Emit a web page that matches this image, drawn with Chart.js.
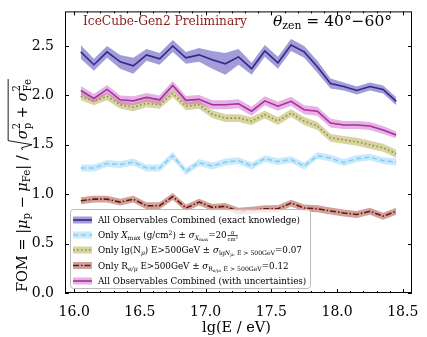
<!DOCTYPE html>
<html>
<head>
<meta charset="utf-8">
<script src="https://cdn.jsdelivr.net/npm/chart.js@4.4.1/dist/chart.umd.min.js"></script>
<style>html,body{margin:0;padding:0;background:#fff}</style>
</head>
<body>
<canvas id="fom" width="427" height="337"></canvas>
<script>
// lg(E/eV) bin centres
var energy = [16.05,16.15,16.25,16.35,16.45,16.55,16.65,16.75,16.85,16.95,17.05,17.15,17.25,17.35,17.45,17.55,17.65,17.75,17.85,17.95,18.05,18.15,18.25,18.35,18.45];

var fomExact = [2.44,2.31,2.44,2.34,2.30,2.41,2.37,2.50,2.38,2.41,2.36,2.32,2.39,2.27,2.45,2.33,2.51,2.44,2.29,2.12,2.09,2.05,2.09,2.06,1.94];
var errExact = [0.07,0.06,0.06,0.07,0.08,0.06,0.06,0.06,0.06,0.07,0.09,0.11,0.08,0.06,0.06,0.06,0.06,0.06,0.06,0.05,0.04,0.04,0.04,0.04,0.04];

var fomXmax = [1.265,1.265,1.31,1.30,1.325,1.265,1.265,1.39,1.23,1.32,1.285,1.325,1.34,1.285,1.36,1.33,1.35,1.285,1.39,1.365,1.32,1.36,1.375,1.34,1.325];
var errXmax = [0.035,0.035,0.035,0.035,0.035,0.035,0.035,0.04,0.035,0.035,0.035,0.035,0.035,0.035,0.035,0.035,0.035,0.035,0.035,0.035,0.035,0.035,0.035,0.035,0.035];

var fomNmu = [1.99,1.94,1.99,1.905,1.88,1.92,1.905,2.02,1.89,1.905,1.81,1.77,1.77,1.74,1.805,1.74,1.82,1.74,1.69,1.57,1.55,1.53,1.50,1.47,1.41];
var errNmu = [0.04,0.04,0.04,0.04,0.04,0.04,0.04,0.04,0.04,0.04,0.04,0.04,0.04,0.04,0.04,0.04,0.04,0.04,0.04,0.04,0.04,0.04,0.04,0.04,0.04];

var fomRemu = [0.933,0.95,0.95,0.92,0.95,0.883,0.883,0.976,0.86,0.92,0.867,0.877,0.827,0.837,0.853,0.853,0.91,0.86,0.853,0.83,0.81,0.795,0.827,0.777,0.827];
var errRemu = [0.035,0.035,0.035,0.035,0.035,0.035,0.035,0.035,0.035,0.035,0.035,0.035,0.035,0.035,0.035,0.035,0.035,0.035,0.035,0.035,0.035,0.035,0.035,0.035,0.035];

var fomUnc = [2.05,1.97,2.06,1.955,1.945,1.98,1.955,2.10,1.95,1.96,1.905,1.905,1.915,1.84,1.945,1.89,1.94,1.855,1.84,1.72,1.70,1.70,1.69,1.65,1.60];
var errUnc = [0.045,0.045,0.045,0.045,0.045,0.045,0.045,0.045,0.045,0.045,0.045,0.045,0.045,0.045,0.045,0.045,0.045,0.045,0.045,0.045,0.04,0.04,0.04,0.04,0.035];

var xTickStep = 0.5;
var yTickStep = 0.5;

var series = [
  {val: fomExact, err: errExact, line: '#2e2a87', band: 'rgba(90,75,185,0.55)', dash: []},
  {val: fomXmax, err: errXmax, line: '#86cdf0', band: 'rgba(135,206,250,0.45)', dash: [5,3]},
  {val: fomNmu, err: errNmu, line: '#8f8f38', band: 'rgba(175,170,70,0.5)', dash: [1.5,2.5]},
  {val: fomRemu, err: errRemu, line: '#6e1408', band: 'rgba(160,70,55,0.5)', dash: [6,2,1.5,2]},
  {val: fomUnc, err: errUnc, line: '#a6309e', band: 'rgba(205,100,200,0.5)', dash: []}
];

var legendRows = [
  [{t:'All Observables Combined (exact knowledge)'}],
  [{t:'Only '},{t:'X',it:1},{sub:[{t:'max'}]},{t:' (g/cm'},{sup:[{t:'2'}]},{t:') ± '},{t:'σ',it:1},{sub:[{t:'X',it:1},{sub:[{t:'max'}]}]},{t:'=20'},{frac:[[{t:'g'}],[{t:'cm'},{sup:[{t:'2'}]}]]}],
  [{t:'Only lg(N'},{sub:[{t:'μ',it:1}]},{t:') E>500GeV ± '},{t:'σ',it:1},{sub:[{t:'lg'},{t:'N',it:1},{sub:[{t:'μ',it:1}]},{t:', E > 500GeV'}]},{t:'=0.07'}],
  [{t:'Only R'},{sub:[{t:'e/μ',it:1}]},{t:' E>500GeV ± '},{t:'σ',it:1},{sub:[{t:'R'},{sub:[{t:'e/μ',it:1}]},{t:', E > 500GeV'}]},{t:'=0.12'}],
  [{t:'All Observables Combined (with uncertainties)'}]
];

var yLabel = [{t:'FOM = |'},{t:'μ',it:1},{sub:[{t:'p'}]},{t:' − '},{t:'μ',it:1},{sub:[{t:'Fe'}]},{t:'| / '},
  {sqrt:[{t:'σ',it:1},{stack:[[{t:'2'}],[{t:'p'}]]},{t:' + '},{t:'σ',it:1},{stack:[[{t:'2'}],[{t:'Fe'}]]}]}];
var thetaLabel = [{t:'θ',it:1},{sub:[{t:'zen'}]},{t:' = 40°−60°'}];

// --- tiny rich text helper (sub/sup/frac/sqrt) ---
function fnt(size, it) { return (it ? 'italic ' : '') + size.toFixed(2) + 'px "DejaVu Serif"'; }
function rw(ctx, parts, size) { var w = 0; parts.forEach(function(p){ w += pw(ctx, p, size); }); return w; }
function pw(ctx, p, size) {
  if (p.sub) return rw(ctx, p.sub, size*0.7);
  if (p.sup) return rw(ctx, p.sup, size*0.7);
  if (p.stack) return Math.max(rw(ctx, p.stack[0], size*0.7), rw(ctx, p.stack[1], size*0.7));
  if (p.frac) return Math.max(rw(ctx, p.frac[0], size*0.6), rw(ctx, p.frac[1], size*0.6)) + size*0.2;
  if (p.sqrt) return size*0.8 + rw(ctx, p.sqrt, size);
  ctx.font = fnt(size, p.it);
  return ctx.measureText(p.t).width;
}
function rdraw(ctx, parts, x, y, size) {
  parts.forEach(function(p){
    if (p.sub) rdraw(ctx, p.sub, x, y + size*0.22, size*0.7);
    else if (p.sup) rdraw(ctx, p.sup, x, y - size*0.4, size*0.7);
    else if (p.stack) {
      rdraw(ctx, p.stack[0], x, y - size*0.45, size*0.7);
      rdraw(ctx, p.stack[1], x, y + size*0.25, size*0.7);
    } else if (p.frac) {
      var w = pw(ctx, p, size);
      var nw = rw(ctx, p.frac[0], size*0.6), dw = rw(ctx, p.frac[1], size*0.6);
      rdraw(ctx, p.frac[0], x + (w-nw)/2, y - size*0.45, size*0.6);
      rdraw(ctx, p.frac[1], x + (w-dw)/2, y + size*0.28, size*0.6);
      ctx.fillRect(x + size*0.1, y - size*0.33, w - size*0.2, 0.7);
    } else if (p.sqrt) {
      var iw = rw(ctx, p.sqrt, size);
      var top = y - size*1.3, bot = y + size*0.35;
      ctx.beginPath();
      ctx.moveTo(x + size*0.05, y - size*0.3);
      ctx.lineTo(x + size*0.2, y - size*0.38);
      ctx.lineTo(x + size*0.42, bot);
      ctx.lineTo(x + size*0.7, top);
      ctx.lineTo(x + size*0.8 + iw, top);
      ctx.lineWidth = 0.9;
      ctx.stroke();
      rdraw(ctx, p.sqrt, x + size*0.8, y, size);
    } else {
      ctx.font = fnt(size, p.it);
      ctx.fillText(p.t, x, y);
    }
    x += pw(ctx, p, size);
  });
}

var datasets = [];
series.forEach(function(s, i){
  var up = [], lo = [], mid = [];
  for (var k = 0; k < energy.length; k++) {
    up.push({x: energy[k], y: s.val[k] + s.err[k]});
    lo.push({x: energy[k], y: s.val[k] - s.err[k]});
    mid.push({x: energy[k], y: s.val[k]});
  }
  var o = 100 - 4*i;
  datasets.push({data: up, borderColor: 'rgba(0,0,0,0)', borderWidth: 0, pointRadius: 0, fill: false, order: o});
  datasets.push({data: lo, borderColor: 'rgba(0,0,0,0)', borderWidth: 0, pointRadius: 0, fill: '-1', backgroundColor: s.band, order: o - 1});
  datasets.push({data: mid, borderColor: s.line, borderWidth: 1.6, borderDash: s.dash, pointRadius: 0, fill: false, order: o - 2});
});

var decor = {
  id: 'decor',
  afterDraw: function(chart) {
    var ctx = chart.ctx, ca = chart.chartArea, xs = chart.scales.x, ys = chart.scales.y;
    ctx.save();
    ctx.strokeStyle = '#000';
    ctx.lineWidth = 1;
    function seg(a, b, c, d) { ctx.beginPath(); ctx.moveTo(a, b); ctx.lineTo(c, d); ctx.stroke(); }
    // inward ticks on all sides
    xs.ticks.forEach(function(t){
      var px = Math.round(xs.getPixelForValue(t.value)) + 0.5;
      seg(px, ca.bottom, px, ca.bottom - 4);
      seg(px, ca.top, px, ca.top + 4);
    });
    for (var m = 16.1; m < xs.max; m += 0.1) {
      if (Math.abs(m*2 - Math.round(m*2)) < 0.01) continue;
      var mx = Math.round(xs.getPixelForValue(m)) + 0.5;
      seg(mx, ca.bottom, mx, ca.bottom - 2);
      seg(mx, ca.top, mx, ca.top + 2);
    }
    ys.ticks.forEach(function(t){
      var py = Math.round(ys.getPixelForValue(t.value)) + 0.5;
      seg(ca.left, py, ca.left + 4, py);
      seg(ca.right, py, ca.right - 4, py);
    });
    ctx.strokeRect(ca.left + 0.5, ca.top + 0.5, ca.right - ca.left - 1, ca.bottom - ca.top - 1);

    ctx.textAlign = 'left';
    ctx.textBaseline = 'alphabetic';

    // annotation texts
    ctx.fillStyle = '#8b1a1a';
    var tsz = 10 * 164 / rw(ctx, [{t:'IceCube-Gen2 Preliminary'}], 10);
    rdraw(ctx, [{t:'IceCube-Gen2 Preliminary'}], 83, 25, tsz);
    ctx.fillStyle = '#000';
    ctx.strokeStyle = '#000';
    var thz = 10 * 119 / rw(ctx, thetaLabel, 10);
    rdraw(ctx, thetaLabel, 273, 26, thz);

    // axis titles
    ctx.font = fnt(14.5, false);
    ctx.textAlign = 'center';
    ctx.fillText('lg(E / eV)', (ca.left + ca.right) / 2 - 2, 332);
    ctx.textAlign = 'left';
    ctx.save();
    ctx.translate(27, 292);
    ctx.rotate(-Math.PI / 2);
    rdraw(ctx, yLabel, 0, 0, 14.5);
    ctx.restore();

    // legend box
    var lx = 70, ly = 209, lw = 240, lh = 79;
    ctx.fillStyle = 'rgba(255,255,255,0.8)';
    ctx.strokeStyle = '#bbbbbb';
    ctx.lineWidth = 1;
    ctx.beginPath();
    ctx.roundRect(lx + 0.5, ly + 0.5, lw, lh, 3);
    ctx.fill();
    ctx.stroke();
    var lsz = 10 * 202 / rw(ctx, legendRows[0], 10);
    var rowsY = [220, 235, 250, 265.5, 281];
    series.forEach(function(s, i){
      var cy = rowsY[i];
      ctx.fillStyle = s.band;
      ctx.fillRect(73, cy - 3.5, 19, 7);
      ctx.strokeStyle = s.line;
      ctx.lineWidth = 1.6;
      ctx.setLineDash(s.dash);
      seg(73, cy, 92, cy);
      ctx.setLineDash([]);
      ctx.fillStyle = '#000';
      ctx.strokeStyle = '#000';
      rdraw(ctx, legendRows[i], 98, cy + lsz * 0.36, lsz);
    });
    ctx.restore();
  }
};

new Chart(document.getElementById('fom'), {
  type: 'line',
  data: {datasets: datasets},
  options: {
    responsive: false,
    animation: false,
    layout: {padding: {left: 0, top: 7, right: 15, bottom: 0}},
    plugins: {legend: {display: false}, tooltip: {enabled: false}},
    elements: {line: {tension: 0}},
    scales: {
      x: {
        type: 'linear', min: 15.93, max: 18.57,
        grid: {display: false}, border: {display: false},
        ticks: {stepSize: xTickStep, includeBounds: false, padding: 3, color: '#000', maxRotation: 0,
          font: {family: 'DejaVu Serif', size: 14},
          callback: function(v){ return v.toFixed(1); }},
        afterFit: function(s){ s.height = 44; }
      },
      y: {
        min: 0, max: 2.85,
        grid: {display: false}, border: {display: false},
        ticks: {stepSize: yTickStep, includeBounds: false, padding: 3, color: '#000',
          font: {family: 'DejaVu Serif', size: 14},
          callback: function(v){ return v.toFixed(1); }},
        afterFit: function(s){ s.width = 65; }
      }
    }
  },
  plugins: [decor]
});
</script>
</body>
</html>
